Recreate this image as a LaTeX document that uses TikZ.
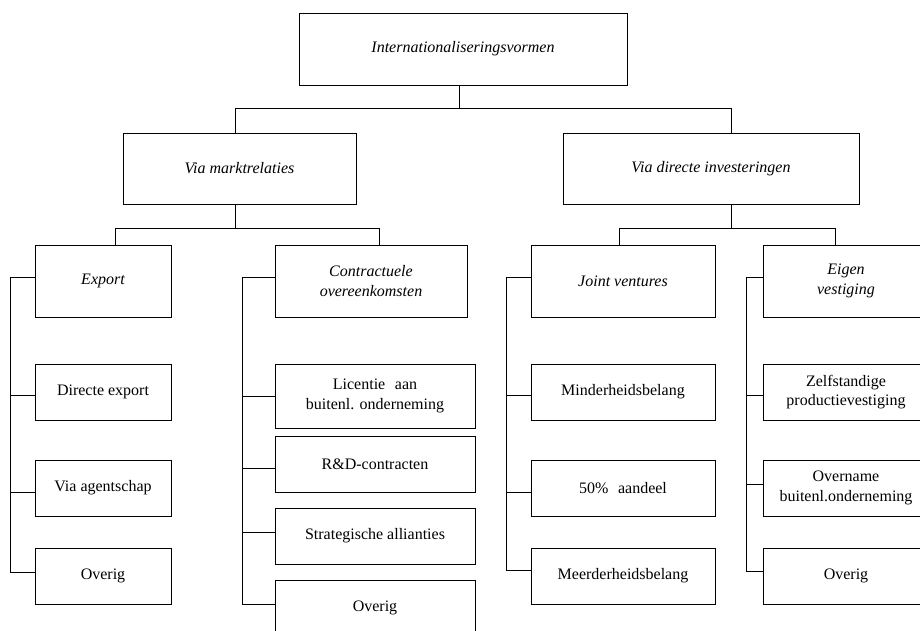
\documentclass[tikz,border=0pt]{standalone}
\usepackage{fontspec}
\setmainfont{Liberation Serif}
\begin{document}
\begin{tikzpicture}[x=1pt,y=-1pt,
  box/.style={draw, line width=0.9pt, inner sep=0pt, align=center,
    font=\fontsize{16}{19.5}\selectfont},
  hbox/.style={box, font=\fontsize{16}{19.5}\selectfont\itshape, minimum height=72pt},
  leaf/.style={box, minimum height=56pt},
  link/.style={line width=0.9pt}]
\useasboundingbox (0,0) rectangle (920,630);
\clip (0,0) rectangle (920,630);
% level 0
\node[hbox, minimum width=328pt] (top) at (463,49) {Internationaliseringsvormen};
% level 1
\node[hbox, minimum width=233pt, minimum height=71pt] (vm) at (239.5,168.5) {Via marktrelaties};
\node[hbox, minimum width=296pt, minimum height=71pt] (vd) at (711,168.5) {Via directe investeringen};
% level 2
\node[hbox, minimum width=136pt] (exp) at (103,281) {Export};
\node[hbox, minimum width=192pt] (con) at (371,281) {Contractuele\\overeenkomsten};
\node[hbox, minimum width=184pt] (jv) at (623,281) {Joint ventures};
\node[hbox, minimum width=166pt] (eig) at (846,281) {Eigen\\vestiging};
% export children
\node[leaf, minimum width=136pt] (ede) at (103,392) {Directe export};
\node[leaf, minimum width=136pt] (eag) at (103,488) {Via agentschap};
\node[leaf, minimum width=136pt] (eov) at (103,576) {Overig};
% contract children
\node[leaf, minimum width=200pt, minimum height=64pt] (clic) at (375,396) {Licentie\hspace{0.6em}aan\\buitenl. onderneming};
\node[leaf, minimum width=200pt] (crd) at (375,464) {R\&D-contracten};
\node[leaf, minimum width=200pt] (cstr) at (375,536) {Strategische allianties};
\node[leaf, minimum width=200pt] (cov) at (375,608) {Overig};
% joint venture children
\node[leaf, minimum width=184pt] (jmin) at (623,392) {Minderheidsbelang};
\node[leaf, minimum width=184pt] (j50) at (623,488) {50\%\hspace{0.6em}aandeel};
\node[leaf, minimum width=184pt] (jmeer) at (623,576) {Meerderheidsbelang};
% eigen children
\node[leaf, minimum width=166pt] (ezelf) at (846,392) {Zelfstandige\\productievestiging};
\node[leaf, minimum width=166pt] (eover) at (846,488) {Overname\\buitenl.onderneming};
\node[leaf, minimum width=166pt] (eigov) at (846,576) {Overig};
% tree connectors
\draw[link] ([xshift=-4pt]top.south) -- ++(0,23.7);
\draw[link] ([xshift=-4.5pt]vm.north) -- ++(0,-24.3) -| ([xshift=20pt]vd.north);
\draw[link] ([xshift=-4.5pt]vm.south) -- ++(0,24.5);
\draw[link] ([xshift=12pt]exp.north) -- ++(0,-16.3) -| ([xshift=8pt]con.north);
\draw[link] ([xshift=20pt]vd.south) -- ++(0,24.5);
\draw[link] ([xshift=-4pt]jv.north) -- ++(0,-16.3) -| ([xshift=-11pt]eig.north);
% export bracket
\draw[link] ([yshift=4pt]exp.west) -- ++(-23.7,0) |- ([yshift=4pt]eov.west);
\draw[link] ([yshift=-3.7pt]ede.west) -- ++(-23.7,0);
\draw[link] ([yshift=-4.3pt]eag.west) -- ++(-23.7,0);
% contract bracket
\draw[link] ([yshift=4pt]con.west) -- ++(-31.7,0) |- ([yshift=3.7pt]cov.west);
\draw[link] (clic.west) -- ++(-31.7,0);
\draw[link] ([yshift=-4.3pt]crd.west) -- ++(-31.7,0);
\draw[link] ([yshift=3.7pt]cstr.west) -- ++(-31.7,0);
% joint venture bracket
\draw[link] ([yshift=4pt]jv.west) -- ++(-24.3,0) |- ([yshift=5.3pt]jmeer.west);
\draw[link] ([yshift=-3.7pt]jmin.west) -- ++(-24.3,0);
\draw[link] ([yshift=-4.3pt]j50.west) -- ++(-24.3,0);
% eigen bracket
\draw[link] ([yshift=4pt]eig.west) -- ++(-16.3,0) |- ([yshift=4.3pt]eigov.west);
\draw[link] ([yshift=-3.7pt]ezelf.west) -- ++(-16.3,0);
\draw[link] ([yshift=4pt]eover.west) -- ++(-16.3,0);
\end{tikzpicture}
\end{document}
